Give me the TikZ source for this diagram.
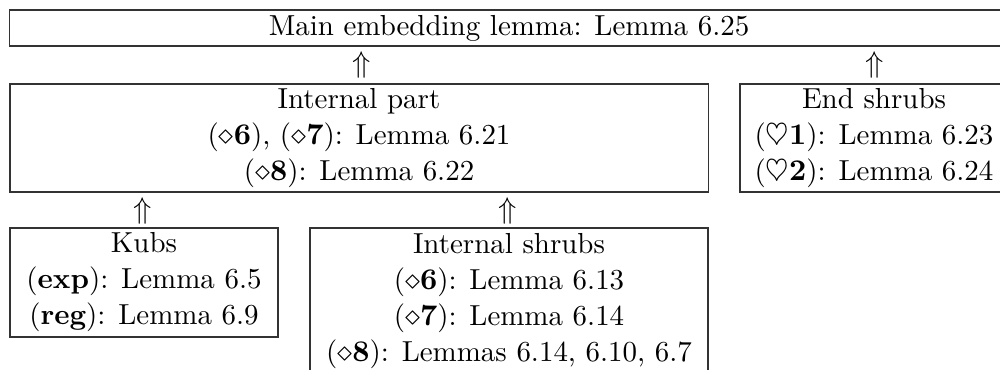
\documentclass[tikz,border=0pt]{standalone}
\usepackage{amssymb}

\begin{document}
\begin{tikzpicture}
  [x=0.3333pt,y=-0.3333pt,every node/.style={inner sep=0pt,align=center,font=\fontsize{9.65}{12}\selectfont},
   lemmabox/.style={draw=black!80,rectangle,anchor=center}]
  \useasboundingbox (0,0) rectangle (1000,369);
  \node[lemmabox,minimum width=332.7pt,minimum height=12pt] (main) at (509,28) {Main embedding lemma: Lemma 6.25};
  \node[lemmabox,minimum width=232.7pt,minimum height=36pt] (internal) at (359,138)
    {Internal part\\ ($\diamond\mathbf{6}$), ($\diamond\mathbf{7}$): Lemma 6.21\\ ($\diamond\mathbf{8}$): Lemma 6.22};
  \node[lemmabox,minimum width=89.3pt,minimum height=36pt] (endshrubs) at (874,138)
    {End shrubs\\ ($\heartsuit\mathbf{1}$): Lemma 6.23\\ ($\heartsuit\mathbf{2}$): Lemma 6.24};
  \node[lemmabox,minimum width=89.3pt,minimum height=36.3pt] (kubs) at (144,282.5)
    {Kubs\\ (\textbf{exp}): Lemma 6.5\\ (\textbf{reg}): Lemma 6.9};
  \node[lemmabox,minimum width=132.7pt,minimum height=48.7pt] (intshrubs) at (509,301)
    {Internal shrubs\\ ($\diamond\mathbf{6}$): Lemma 6.13\\ ($\diamond\mathbf{7}$): Lemma 6.14\\ ($\diamond\mathbf{8}$): Lemmas 6.14, 6.10, 6.7};
  % implications
  \node (up1) at (362,65) {$\Uparrow$};
  \node (up2) at (875,65) {$\Uparrow$};
  \node (up3) at (143,211) {$\Uparrow$};
  \node (up4) at (508,211) {$\Uparrow$};
\end{tikzpicture}
\end{document}
